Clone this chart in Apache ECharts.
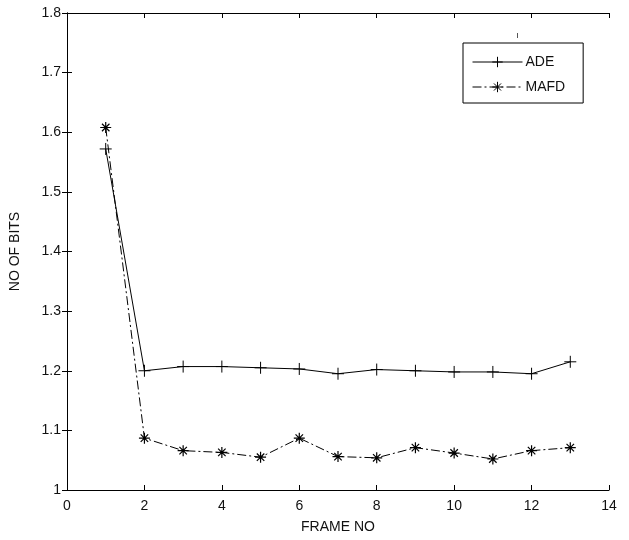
<!DOCTYPE html>
<html>
<head>
<meta charset="utf-8">
<script src="https://cdn.jsdelivr.net/npm/echarts@6/dist/echarts.min.js"></script>
<style>
  html, body { margin: 0; padding: 0; background: #fff; }
  #chart { width: 629px; height: 540px; }
</style>
</head>
<body>
<div id="chart"></div>
<script>
// Frame numbers and bit counts per frame
const frames = [1, 2, 3, 4, 5, 6, 7, 8, 9, 10, 11, 12, 13];
const adeBits = [1.572, 1.200, 1.207, 1.207, 1.205, 1.203, 1.195, 1.202, 1.200, 1.198, 1.198, 1.195, 1.215];
const mafdBits = [1.608, 1.087, 1.066, 1.063, 1.055, 1.087, 1.056, 1.054, 1.071, 1.062, 1.052, 1.066, 1.071];

const FONT = "'Liberation Sans', Arial, Helvetica, sans-serif";
const INK = '#000';
const TEXT = '#111';

// Stroked marker shapes: plus and eight-armed asterisk
const plusSymbol = 'path://M5,0 L5,10 M0,5 L10,5';
const starSymbol = 'path://M5,0 L5,10 M0,5 L10,5 M1.6,1.6 L8.4,8.4 M8.4,1.6 L1.6,8.4';

const pairs = (xs, ys) => xs.map((x, i) => [x, ys[i]]);

const chart = echarts.init(document.getElementById('chart'), null, { renderer: 'canvas' });

const tickStyle = { show: true, inside: true, length: 5, lineStyle: { color: INK, width: 1 } };
const lineAxis = { show: true, lineStyle: { color: INK, width: 1 } };
const labelStyle = { color: TEXT, fontFamily: FONT, fontSize: 14 };

chart.setOption({
  animation: false,
  backgroundColor: '#fff',
  grid: { left: 66, right: 20, top: 13, bottom: 50, containLabel: false },
  xAxis: [
    {
      type: 'value', min: 0, max: 14, interval: 2, position: 'bottom',
      name: 'FRAME NO', nameLocation: 'middle', nameGap: 30,
      nameTextStyle: { color: TEXT, fontFamily: FONT, fontSize: 14 },
      axisLine: lineAxis, axisTick: tickStyle,
      axisLabel: Object.assign({ margin: 9 }, labelStyle),
      splitLine: { show: false }
    },
    {
      type: 'value', min: 0, max: 14, interval: 2, position: 'top',
      axisLine: lineAxis, axisTick: tickStyle,
      axisLabel: { show: false }, splitLine: { show: false }
    }
  ],
  yAxis: [
    {
      type: 'value', min: 1, max: 1.8, interval: 0.1, position: 'left',
      name: 'NO OF BITS', nameLocation: 'middle', nameGap: 45,
      nameTextStyle: { color: TEXT, fontFamily: FONT, fontSize: 14 },
      axisLine: lineAxis, axisTick: tickStyle,
      axisLabel: Object.assign({ margin: 6, formatter: v => String(Math.round(v * 10) / 10) }, labelStyle),
      splitLine: { show: false }
    },
    {
      type: 'value', min: 1, max: 1.8, interval: 0.1, position: 'right',
      axisLine: lineAxis, axisTick: tickStyle,
      axisLabel: { show: false }, splitLine: { show: false }
    }
  ],
  legend: {
    orient: 'vertical',
    left: 463, top: 43,
    backgroundColor: '#fff',
    borderColor: INK, borderWidth: 1, borderRadius: 0,
    padding: [12, 18, 9, 9],
    itemGap: 11,
    itemWidth: 50, itemHeight: 13,
    lineStyle: { width: 1 },
    itemStyle: { borderWidth: 1 },
    textStyle: { color: TEXT, fontFamily: FONT, fontSize: 14, padding: [0, 0, 0, -2] },
    data: ['ADE', 'MAFD']
  },
  series: [
    {
      name: 'ADE', type: 'line',
      data: pairs(frames, adeBits),
      symbol: plusSymbol, symbolSize: 12,
      itemStyle: { color: INK, borderColor: INK, borderWidth: 1 },
      lineStyle: { color: INK, width: 1, type: 'solid' },
      z: 3
    },
    {
      name: 'MAFD', type: 'line',
      data: pairs(frames, mafdBits),
      symbol: starSymbol, symbolSize: 11,
      itemStyle: { color: INK, borderColor: INK, borderWidth: 1.2 },
      lineStyle: { color: INK, width: 1, type: [9, 3, 2, 3] },
      z: 3
    }
  ],
  graphic: [
    {
      type: 'line', shape: { x1: 517.5, y1: 33, x2: 517.5, y2: 38 },
      style: { stroke: '#555', lineWidth: 1 }
    }
  ]
});
</script>
</body>
</html>
